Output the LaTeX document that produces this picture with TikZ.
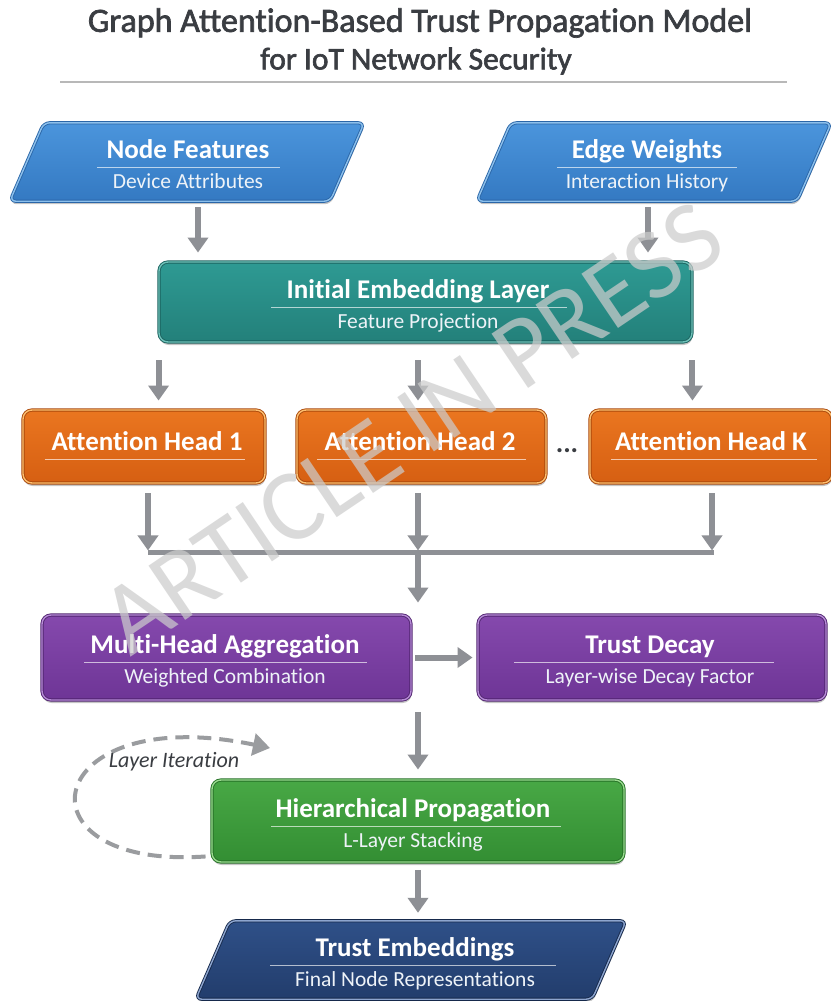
\documentclass[tikz,border=0pt]{standalone}
\usepackage{fontspec}
\setmainfont{Carlito}[Ligatures=NoCommon]
\newfontfamily\headfont{Carlito}[Ligatures=NoCommon, FakeBold=2]
\usetikzlibrary{arrows.meta,shadows,calc}

% palette
\definecolor{inkgray}{HTML}{3A3D42}
\definecolor{rulegray}{HTML}{B8B8B8}
\definecolor{arrowgray}{HTML}{8E9095}
\definecolor{loopgray}{HTML}{9A9C9F}
\definecolor{subwhite}{HTML}{EEF3F8}
\definecolor{wmgray}{HTML}{CCCCCC}
\definecolor{blueT}{HTML}{4B95DC}\definecolor{blueB}{HTML}{3479C2}
\definecolor{blueD}{HTML}{2A66A8}\definecolor{blueL}{HTML}{8CC0EC}
\definecolor{tealT}{HTML}{2E9A93}\definecolor{tealB}{HTML}{23807A}
\definecolor{tealD}{HTML}{1B625E}\definecolor{tealL}{HTML}{6FC2BA}
\definecolor{orangeT}{HTML}{EA7620}\definecolor{orangeB}{HTML}{D65F12}
\definecolor{orangeD}{HTML}{A9480B}\definecolor{orangeL}{HTML}{FFC070}
\definecolor{purpleT}{HTML}{8549AD}\definecolor{purpleB}{HTML}{6E3596}
\definecolor{purpleD}{HTML}{50246F}\definecolor{purpleL}{HTML}{B68AD6}
\definecolor{greenT}{HTML}{48A845}\definecolor{greenB}{HTML}{338E33}
\definecolor{greenD}{HTML}{246F25}\definecolor{greenL}{HTML}{9ADB8F}
\definecolor{navyT}{HTML}{2F5088}\definecolor{navyB}{HTML}{223D6C}
\definecolor{navyD}{HTML}{16294B}\definecolor{navyL}{HTML}{8DA5CF}

\tikzset{
  boxshadow/.style={drop shadow={shadow xshift=0.6pt, shadow yshift=-3pt, opacity=0.45}},
  card/.style={rectangle, rounded corners=9pt, inner sep=0pt, line width=0.9pt,
    double distance=1.4pt, boxshadow},
  card teal/.style={card, draw=tealD, double=tealL, top color=tealT, bottom color=tealB},
  card orange/.style={card, draw=orangeD, double=orangeL, top color=orangeT, bottom color=orangeB},
  card purple/.style={card, draw=purpleD, double=purpleL, top color=purpleT, bottom color=purpleB},
  card green/.style={card, draw=greenD, double=greenL, top color=greenT, bottom color=greenB},
  frame/.style={rectangle, inner sep=0pt},
  slab/.style={rounded corners=6pt, line width=0.9pt, double distance=1.4pt, boxshadow},
  slab blue/.style={slab, draw=blueD, double=blueL, top color=blueT, bottom color=blueB},
  slab navy/.style={slab, draw=navyD, double=navyL, top color=navyT, bottom color=navyB},
  ttl/.style={text=white, font=\fontsize{27}{30}\selectfont\bfseries, inner sep=0pt},
  sub/.style={text=subwhite, font=\fontsize{21.5}{24}\selectfont, inner sep=0pt},
  ul/.style={draw=white, draw opacity=0.65, line width=1pt},
  arr/.style={draw=arrowgray, line width=6pt, -{Triangle[width=20pt,length=15pt]}},
  bar/.style={draw=arrowgray, line width=4.5pt},
  loop/.style={draw=loopgray, line width=4pt, dash pattern=on 14pt off 8pt,
    -{Triangle[width=22pt,length=17pt]}},
  heading/.style={text=inkgray, inner sep=0pt},
  wm/.style={text=wmgray, text opacity=0.72, inner sep=0pt,
    font=\fontsize{102}{110}\selectfont},
}

% title, rule and subtitle inside a box
\newcommand{\cardtext}[6]{%
  \node[ttl, anchor=base] (#1-t) at ($(#1.center)+(#2,-4)$) {#5};
  \draw[ul] ($(#1.center)+(#3-#4,5)$) -- ($(#1.center)+(#3+#4,5)$);
  \node[sub, anchor=base] (#1-s) at ($(#1.center)+(#2,26)$) {#6};
}
% slanted input/output block around a frame node
\newcommand{\slabpath}[3]{%
  \path[#2] ([xshift=-#3]#1.south west) -- ([xshift=-#3]#1.south east)
    -- ([xshift=#3]#1.north east) -- ([xshift=#3]#1.north west) -- cycle;
}

\begin{document}
\begin{tikzpicture}[x=1pt, y=-1pt]
  \fill[white] (0,0) rectangle (830,1001);
  \useasboundingbox (0,0) rectangle (830,1001);

  % heading
  \node[heading, font=\headfont\fontsize{34}{38}\selectfont] (title1) at (420,23)
    {Graph Attention-Based Trust Propagation Model};
  \node[heading, font=\headfont\fontsize{31.5}{36}\selectfont] (title2) at (416,61)
    {for IoT Network Security};
  \draw[rulegray, line width=1.6pt] (60,82) -- (787,82);

  % inputs
  \node[frame, minimum width=320pt, minimum height=78pt] (nf) at (187,162) {};
  \slabpath{nf}{slab blue}{17pt}
  \cardtext{nf}{1}{1.5}{91.5}{Node Features}{Device Attributes}

  \node[frame, minimum width=320pt, minimum height=78pt] (ew) at (654,162) {};
  \slabpath{ew}{slab blue}{17pt}
  \cardtext{ew}{-7}{-7}{90}{Edge Weights}{Interaction History}

  % embedding
  \node[card teal, minimum width=533pt, minimum height=80pt] (emb) at (425.5,302) {};
  \cardtext{emb}{-7.5}{-6.5}{148}{Initial Embedding Layer}{Feature Projection}

  % attention heads
  \node[card orange, minimum width=242pt, minimum height=73pt] (h1) at (144,446.5) {};
  \node[card orange, minimum width=249pt, minimum height=73pt] (h2) at (421.5,446.5) {};
  \node[card orange, minimum width=242pt, minimum height=73pt] (hK) at (711,446.5) {};
  \node[ttl, anchor=base] (h1-t) at ($(h1.center)+(3,4)$) {Attention Head 1};
  \node[ttl, anchor=base] (h2-t) at ($(h2.center)+(-1.5,4)$) {Attention Head 2};
  \node[ttl, anchor=base] (hK-t) at ($(hK.center)+(0,4)$) {Attention Head K};
  \draw[ul] ($(h1.center)+(0.5-100,13)$) -- ($(h1.center)+(0.5+100,13)$);
  \draw[ul] ($(h2.center)+(0-104.5,13)$) -- ($(h2.center)+(0+104.5,13)$);
  \draw[ul] ($(hK.center)+(3-103,13)$) -- ($(hK.center)+(3+103,13)$);
  \node[text=inkgray, font=\fontsize{28}{30}\selectfont\bfseries, inner sep=0pt] (dots) at (567,451) {...};

  % aggregation and decay
  \node[card purple, minimum width=369pt, minimum height=85pt] (mha) at (226.5,657.5) {};
  \cardtext{mha}{-1.5}{-1}{141.5}{Multi-Head Aggregation}{Weighted Combination}
  \node[card purple, minimum width=348pt, minimum height=85pt] (td) at (652,657.5) {};
  \cardtext{td}{-2}{-8}{130}{Trust Decay}{Layer-wise Decay Factor}

  % propagation
  \node[card green, minimum width=412pt, minimum height=82pt] (hp) at (418,821) {};
  \cardtext{hp}{-5}{-2}{145}{Hierarchical Propagation}{L-Layer Stacking}

  % output
  \node[frame, minimum width=396pt, minimum height=78pt] (te) at (411,960) {};
  \slabpath{te}{slab navy}{17pt}
  \cardtext{te}{4}{2}{143}{Trust Embeddings}{Final Node Representations}

  % connectors
  \draw[arr] ($(nf.south)+(11,6)$) -- ($(nf.south |- emb.north)+(11,-9)$);
  \draw[arr] ($(ew.south)+(-6,6)$) -- ($(ew.south |- emb.north)+(-6,-9)$);

  \draw[arr] ($(emb.south west)+(0,18)$) -- ($(emb.south west |- h1.north)+(0,-9)$);
  \draw[arr] ($(emb.south -| h2.north)+(-3.5,18)$) -- ($(h2.north)+(-3.5,-9)$);
  \draw[arr] ($(emb.south east)+(0,18)$) -- ($(emb.south east |- hK.north)+(0,-9)$);

  \coordinate (join) at ($(h2.south)+(-3.5,69)$);
  \draw[bar] ($(h1.south |- join)+(4,0)$) -- ($(hK.south |- join)+(3,0)$);
  \draw[arr] ($(h1.south)+(4,10)$) -- ($(h1.south |- join)+(4,-2)$);
  \draw[arr] ($(h2.south)+(-3.5,10)$) -- ($(join)+(0,-2)$);
  \draw[arr] ($(hK.south)+(1,10)$) -- ($(hK.south |- join)+(1,-2)$);
  \draw[arr] ($(join)+(0,2)$) -- ($(join |- mha.north)+(0,-12)$);

  \draw[arr] ($(mha.east)+(4,0)$) -- ($(td.west)+(-5,0)$);
  \draw[arr] ($(mha.south -| join)+(0,12)$) -- ($(join |- hp.north)+(0,-10)$);
  \draw[arr] ($(hp.south)+(0,8)$) -- ($(hp.south |- te.north)+(0,-8)$);

  % layer iteration loop
  \coordinate (loopend) at (270,748);
  \draw[loop] ($(hp.south west)+(-6,-6)$) .. controls (10,870) and (40,700) .. (loopend);
  \node[text=inkgray, font=\fontsize{22}{24}\selectfont\itshape, inner sep=0pt] (looplabel) at (174,762) {Layer Iteration};

  % watermark
  \node[wm, rotate=34] (stamp) at (412,428) {ARTICLE IN PRESS};
\end{tikzpicture}
\end{document}
